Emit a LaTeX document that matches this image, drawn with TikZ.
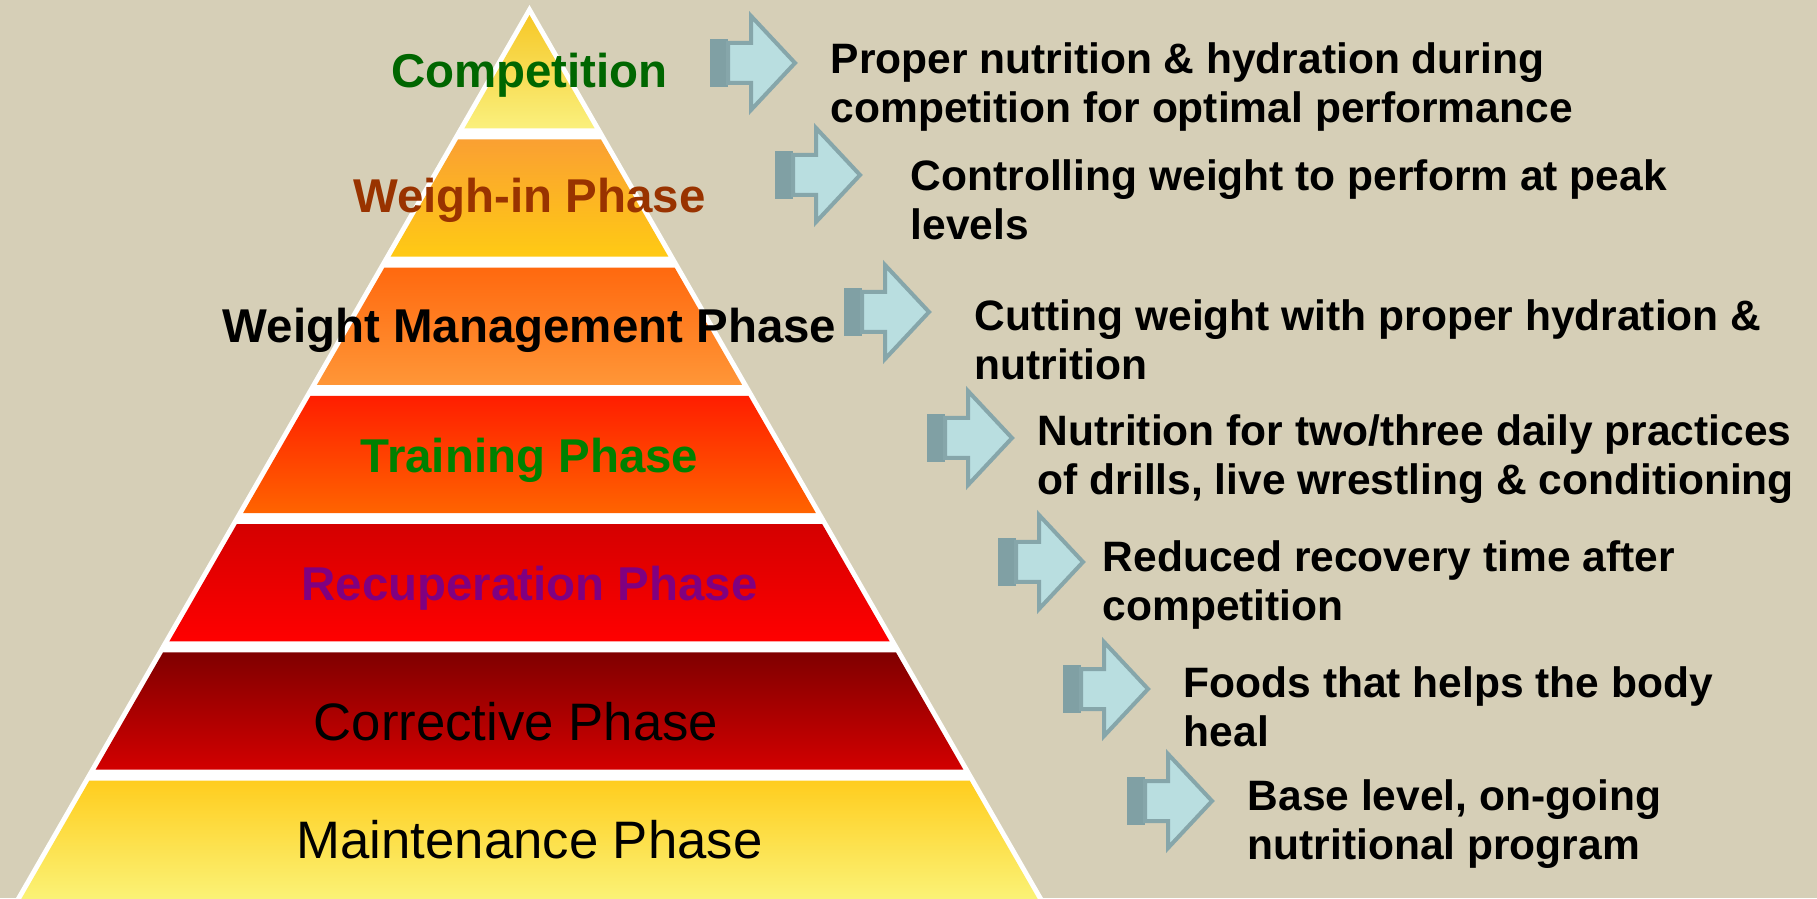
\documentclass[tikz,border=0pt]{standalone}
\usepackage{fontspec}
\setmainfont{Liberation Sans}
\usetikzlibrary{positioning}

\definecolor{bgbeige}{RGB}{214,207,183}
\definecolor{arrowfill}{RGB}{185,222,224}
\definecolor{arrowline}{RGB}{134,166,170}
\definecolor{arrowdark}{RGB}{128,160,164}
\definecolor{compgreen}{RGB}{0,102,0}
\definecolor{traingreen}{RGB}{0,128,0}
\definecolor{weighbrown}{RGB}{153,51,0}
\definecolor{recpurple}{RGB}{128,0,128}

\tikzset{
  arrowside/.style={fill=arrowdark},
  arrowbody/.style={fill=arrowfill, draw=arrowline, line width=0.04cm, line join=miter},
  stagearrow/.pic={
    \fill[arrowside] (0,-0.24) rectangle (0.18,0.24);
    \draw[arrowbody] (0.18,-0.2) -- (0.41,-0.2) -- (0.41,-0.47) -- (0.85,0) -- (0.41,0.47) -- (0.41,0.2) -- (0.18,0.2) -- cycle;
    \coordinate (-tip) at (0.85,0);
  },
  phase/.style={anchor=base, font=\fontsize{13.5}{16}\selectfont\bfseries},
  plainphase/.style={anchor=base, font=\fontsize{15}{18}\selectfont},
  note/.style={anchor=north west, inner sep=0pt, align=left, font=\fontsize{12.1}{13.8}\selectfont\bfseries}
}

\begin{document}
\begin{tikzpicture}
\clip (0,0) rectangle (18.17,8.98);
\fill[bgbeige] (0,0) rectangle (18.17,8.98);

% pyramid
\fill[white] (5.295,8.93) -- (10.487,-0.1) -- (0.103,-0.1) -- cycle;
\shade[top color={rgb,255:red,246;green,200;blue,40}, bottom color={rgb,255:red,250;green,240;blue,125}] (5.295,8.83) -- (5.947,7.695) -- (4.643,7.695) -- cycle;
\shade[top color={rgb,255:red,250;green,160;blue,50}, bottom color={rgb,255:red,255;green,202;blue,20}] (4.580,7.585) -- (6.010,7.585) -- (6.684,6.413) -- (3.906,6.413) -- cycle;
\shade[top color={rgb,255:red,255;green,105;blue,15}, bottom color={rgb,255:red,255;green,150;blue,55}] (3.843,6.303) -- (6.747,6.303) -- (7.421,5.131) -- (3.169,5.131) -- cycle;
\shade[top color={rgb,255:red,255;green,30;blue,0}, bottom color={rgb,255:red,255;green,100;blue,0}] (3.105,5.021) -- (7.485,5.021) -- (8.159,3.849) -- (2.431,3.849) -- cycle;
\shade[top color={rgb,255:red,212;green,0;blue,0}, bottom color={rgb,255:red,255;green,0;blue,0}] (2.368,3.739) -- (8.222,3.739) -- (8.896,2.567) -- (1.694,2.567) -- cycle;
\shade[top color={rgb,255:red,128;green,0;blue,0}, bottom color={rgb,255:red,210;green,0;blue,0}] (1.631,2.457) -- (8.959,2.457) -- (9.633,1.285) -- (0.957,1.285) -- cycle;
\shade[top color={rgb,255:red,255;green,205;blue,30}, bottom color={rgb,255:red,250;green,245;blue,125}] (0.894,1.175) -- (9.696,1.175) -- (10.429,-0.1) -- (0.161,-0.1) -- cycle;

\node[phase, text=compgreen] (competition) at (5.295,8.10) {Competition};
\node[phase, text=weighbrown] (weighin) at (5.295,6.85) {Weigh-in Phase};
\node[phase] (weightmgmt) at (5.295,5.55) {Weight Management Phase};
\node[phase, text=traingreen] (training) at (5.295,4.25) {Training Phase};
\node[phase, text=recpurple] (recuperation) at (5.295,2.97) {Recuperation Phase};
\node[plainphase] (corrective) at (5.16,1.58) {Corrective Phase};
\node[plainphase] (maintenance) at (5.295,0.40) {Maintenance Phase};

% arrows and notes
\pic (ar1) at (7.10,8.35) {stagearrow};
\pic (ar2) at (7.75,7.23) {stagearrow};
\pic (ar3) at (8.44,5.86) {stagearrow};
\pic (ar4) at (9.27,4.60) {stagearrow};
\pic (ar5) at (9.98,3.36) {stagearrow};
\pic (ar6) at (10.63,2.09) {stagearrow};
\pic (ar7) at (11.27,0.97) {stagearrow};

\node[note] (note1) at ([xshift=0.35cm,yshift=0.21cm]ar1-tip) {Proper nutrition \& hydration during\\competition for optimal performance};
\node[note] (note2) at ([xshift=0.50cm,yshift=0.16cm]ar2-tip) {Controlling weight to perform at peak\\levels};
\node[note] (note3) at ([xshift=0.45cm,yshift=0.13cm]ar3-tip) {Cutting weight with proper hydration \&\\nutrition};
\node[note] (note4) at ([xshift=0.25cm,yshift=0.24cm]ar4-tip) {Nutrition for two/three daily practices\\of drills, live wrestling \& conditioning};
\node[note] (note5) at ([xshift=0.19cm,yshift=0.22cm]ar5-tip) {Reduced recovery time after\\competition};
\node[note] (note6) at ([xshift=0.35cm,yshift=0.23cm]ar6-tip) {Foods that helps the body\\heal};
\node[note] (note7) at ([xshift=0.35cm,yshift=0.22cm]ar7-tip) {Base level, on-going\\nutritional program};
\end{tikzpicture}
\end{document}
